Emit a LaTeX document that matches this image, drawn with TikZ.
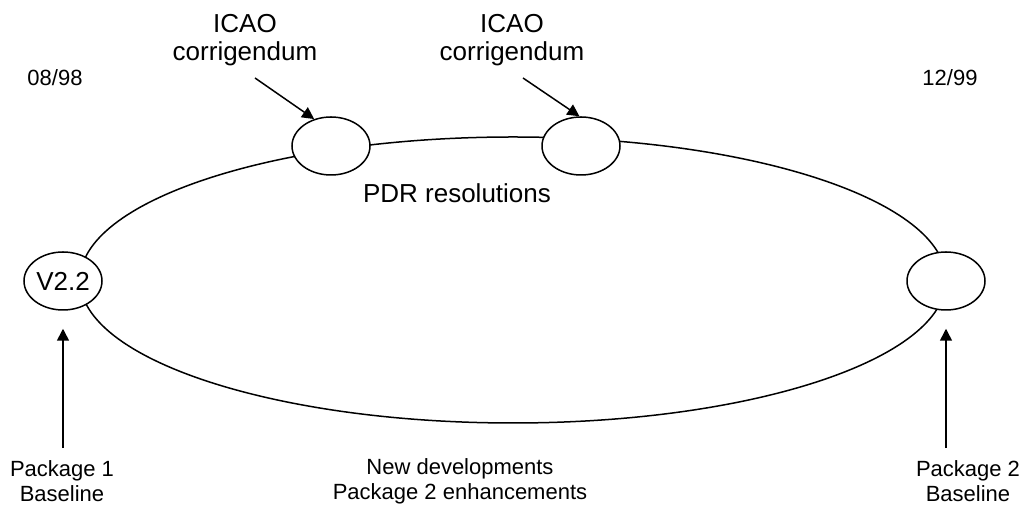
\documentclass[tikz,border=0pt]{standalone}
\usepackage{fontspec}
\setmainfont{Liberation Sans}
\usepackage{tikz}
\usetikzlibrary{arrows.meta,shapes.geometric}
\tikzset{
  cycle ring/.style={draw, ellipse, line width=0.75pt, minimum width=433pt, minimum height=143pt, inner sep=0pt},
  cycle stop/.style={draw, ellipse, fill=white, line width=0.75pt, minimum width=39pt, minimum height=29pt, inner sep=0pt, font=\fontsize{13}{14.3}\selectfont},
  cycle label/.style={align=center, inner sep=0pt, font=\fontsize{13}{14.3}\selectfont},
  cycle note/.style={align=center, inner sep=0pt, font=\fontsize{11}{12.5}\selectfont},
  cycle arrow/.style={-{Triangle[length=6pt,width=6pt]}, line width=0.75pt},
}

\begin{document}
\begin{tikzpicture}[x=0.5pt, y=-0.5pt]
  \useasboundingbox (0,0) rectangle (1025,506);
  % the release cycle and its stops
  \node[cycle ring] (ring) at (513,280) {};
  \node[cycle stop] (v22) at (63,281) {V2.2};
  \node[cycle stop] (rel2) at (946,281) {};
  \node[cycle stop] (corrA) at (331,146) {};
  \node[cycle stop] (corrB) at (581,146) {};
  % labels
  \node[cycle label] (icaoA) at (245,40) {ICAO\\corrigendum};
  \node[cycle label] (icaoB) at (512,40) {ICAO\\corrigendum};
  \node[cycle label] (pdr) at (457,193) {PDR resolutions};
  \node[cycle note] (dateA) at (55,78) {08/98};
  \node[cycle note] (dateB) at (950,78) {12/99};
  \node[cycle note] (newdev) at (460,481) {New developments\\Package 2 enhancements};
  \node[cycle note] (pkgA) at (62,481) {Package 1\\Baseline};
  \node[cycle note] (pkgB) at (968,481) {Package 2\\Baseline};
  \coordinate (tailA) at (255,78);
  \coordinate (tailB) at (523,78);
  % arrows
  \draw[cycle arrow] (tailA) -- (corrA.122);
  \draw[cycle arrow] (tailB) -- (corrB.93);
  \draw[cycle arrow, shorten <=6pt, shorten >=9pt] (pkgA.north -| v22) -- (v22.south);
  \draw[cycle arrow, shorten <=6pt, shorten >=9pt] (pkgB.north -| rel2) -- (rel2.south);
\end{tikzpicture}
\end{document}
